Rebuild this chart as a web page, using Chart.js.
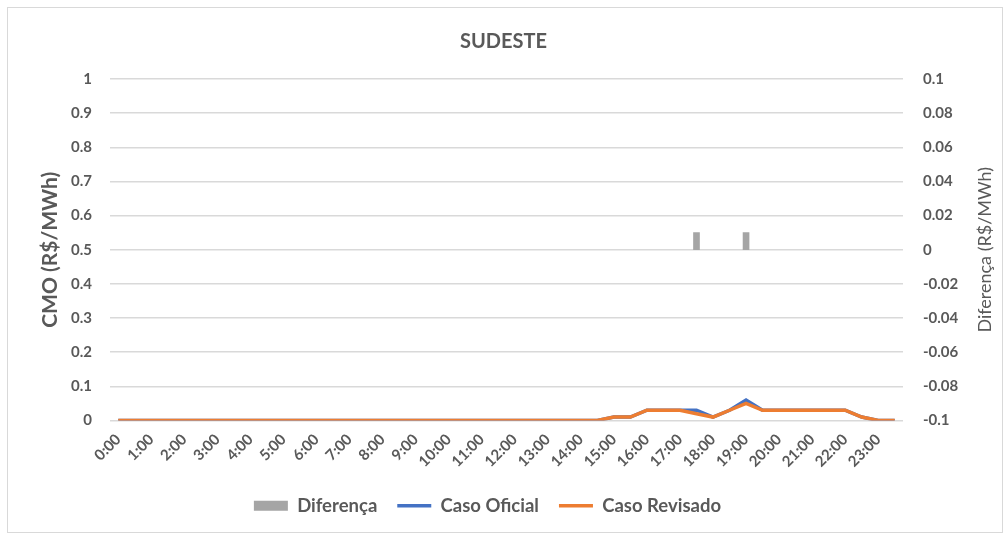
<!DOCTYPE html>
<html>
<head>
<meta charset="utf-8">
<script src="https://cdn.jsdelivr.net/npm/chart.js@4/dist/chart.umd.min.js"></script>
<style>
  body { margin: 0; background: #fff; }
  #wrap { position: relative; width: 1007px; height: 533px; }
  #frame { position: absolute; left: 7px; top: 7px; width: 994px; height: 524px; border: 1px solid #d9d9d9; pointer-events: none; }
</style>
</head>
<body>
<div id="wrap">
  <canvas id="sudeste" width="1007" height="533"></canvas>
  <div id="frame"></div>
</div>
<script>
const horas = [
  '0:00', '0:30', '1:00', '1:30', '2:00', '2:30', '3:00', '3:30', '4:00', '4:30', '5:00', '5:30',
  '6:00', '6:30', '7:00', '7:30', '8:00', '8:30', '9:00', '9:30', '10:00', '10:30', '11:00', '11:30',
  '12:00', '12:30', '13:00', '13:30', '14:00', '14:30', '15:00', '15:30', '16:00', '16:30', '17:00', '17:30',
  '18:00', '18:30', '19:00', '19:30', '20:00', '20:30', '21:00', '21:30', '22:00', '22:30', '23:00', '23:30'
];

const casoOficial = [
  0, 0, 0, 0, 0, 0, 0, 0, 0, 0, 0, 0,
  0, 0, 0, 0, 0, 0, 0, 0, 0, 0, 0, 0,
  0, 0, 0, 0, 0, 0, 0.01, 0.01, 0.03, 0.03, 0.03, 0.03,
  0.01, 0.03, 0.06, 0.03, 0.03, 0.03, 0.03, 0.03, 0.03, 0.01, 0, 0
];

const casoRevisado = [
  0, 0, 0, 0, 0, 0, 0, 0, 0, 0, 0, 0,
  0, 0, 0, 0, 0, 0, 0, 0, 0, 0, 0, 0,
  0, 0, 0, 0, 0, 0, 0.01, 0.01, 0.03, 0.03, 0.03, 0.02,
  0.01, 0.03, 0.05, 0.03, 0.03, 0.03, 0.03, 0.03, 0.03, 0.01, 0, 0
];

// null where both cases match (no bar drawn)
const diferenca = [
  null, null, null, null, null, null, null, null, null, null, null, null,
  null, null, null, null, null, null, null, null, null, null, null, null,
  null, null, null, null, null, null, null, null, null, null, null, 0.01,
  null, null, 0.01, null, null, null, null, null, null, null, null, null
];

const textColor = '#595959';
const fontFamily = 'Lato, "Open Sans", sans-serif';

// axis titles drawn by hand so both read bottom-to-top like the original
const axisTitles = {
  id: 'axisTitles',
  afterLayout(chart) {
    // excel puts the legend a bit left of centre
    chart.legend.left -= 16;
    chart.legend.right -= 16;
  },
  afterDraw(chart) {
    const ctx = chart.ctx;
    const area = chart.chartArea;
    const midY = (area.top + area.bottom) / 2;
    ctx.save();
    ctx.fillStyle = textColor;
    ctx.textAlign = 'center';
    ctx.textBaseline = 'middle';

    ctx.save();
    ctx.translate(50, midY);
    ctx.rotate(-Math.PI / 2);
    ctx.font = 'bold 21px ' + fontFamily;
    ctx.fillText('CMO (R$/MWh)', 0, 0);
    ctx.restore();

    ctx.save();
    ctx.translate(985, midY);
    ctx.rotate(-Math.PI / 2);
    ctx.font = '18px ' + fontFamily;
    ctx.fillText('Diferença (R$/MWh)', 0, 0);
    ctx.restore();

    ctx.restore();
  }
};

const ctx = document.getElementById('sudeste').getContext('2d');

new Chart(ctx, {
  type: 'bar',
  data: {
    labels: horas,
    datasets: [
      {
        type: 'bar',
        label: 'Diferença',
        data: diferenca,
        yAxisID: 'y1',
        backgroundColor: '#a5a5a5',
        borderWidth: 0,
        barThickness: 6,
        pointStyle: 'rect',
        order: 3
      },
      {
        type: 'line',
        label: 'Caso Oficial',
        data: casoOficial,
        yAxisID: 'y',
        borderColor: '#4472c4',
        backgroundColor: '#4472c4',
        borderWidth: 3.5,
        pointRadius: 0,
        pointStyle: 'line',
        tension: 0,
        order: 2
      },
      {
        type: 'line',
        label: 'Caso Revisado',
        data: casoRevisado,
        yAxisID: 'y',
        borderColor: '#ed7d31',
        backgroundColor: '#ed7d31',
        borderWidth: 3.5,
        pointRadius: 0,
        pointStyle: 'line',
        tension: 0,
        order: 1
      }
    ]
  },
  options: {
    responsive: false,
    animation: false,
    layout: {
      padding: { left: 0, right: 0, top: 0, bottom: 8 }
    },
    plugins: {
      title: {
        display: true,
        text: 'SUDESTE',
        color: textColor,
        font: { family: fontFamily, size: 20, weight: 'bold' },
        padding: { top: 30, bottom: 25 }
      },
      legend: {
        position: 'bottom',
        labels: {
          usePointStyle: true,
          pointStyleWidth: 34,
          boxHeight: 10,
          padding: 20,
          color: textColor,
          font: { family: fontFamily, size: 18.5, weight: 'bold' },
          sort: (a, b) => a.datasetIndex - b.datasetIndex
        }
      },
      tooltip: { enabled: false }
    },
    scales: {
      x: {
        offset: true,
        grid: { display: false },
        border: { display: false },
        ticks: {
          color: textColor,
          font: { family: fontFamily, size: 15, weight: 'bold' },
          autoSkip: false,
          minRotation: 45,
          maxRotation: 45,
          padding: 2,
          callback: function(value, index) {
            return index % 2 === 0 ? horas[index] : '';
          }
        },
        afterFit: function(scale) {
          scale.height = 56;
        }
      },
      y: {
        position: 'left',
        min: 0,
        max: 1,
        grid: { color: '#d9d9d9', lineWidth: 1.5, drawTicks: false },
        border: { display: false },
        ticks: {
          stepSize: 0.1,
          color: textColor,
          padding: 18,
          font: { family: fontFamily, size: 15, weight: 'bold' },
          callback: function(value) {
            return Number(value.toFixed(2)).toString();
          }
        },
        afterFit: function(scale) {
          scale.width = 110;
        }
      },
      y1: {
        position: 'right',
        min: -0.1,
        max: 0.1,
        grid: { display: false, drawTicks: false },
        border: { display: false },
        ticks: {
          stepSize: 0.02,
          color: textColor,
          padding: 20,
          font: { family: fontFamily, size: 15, weight: 'bold' },
          callback: function(value) {
            return Number(value.toFixed(2)).toString();
          }
        },
        afterFit: function(scale) {
          scale.width = 104;
        }
      }
    }
  },
  plugins: [axisTitles]
});
</script>
</body>
</html>
